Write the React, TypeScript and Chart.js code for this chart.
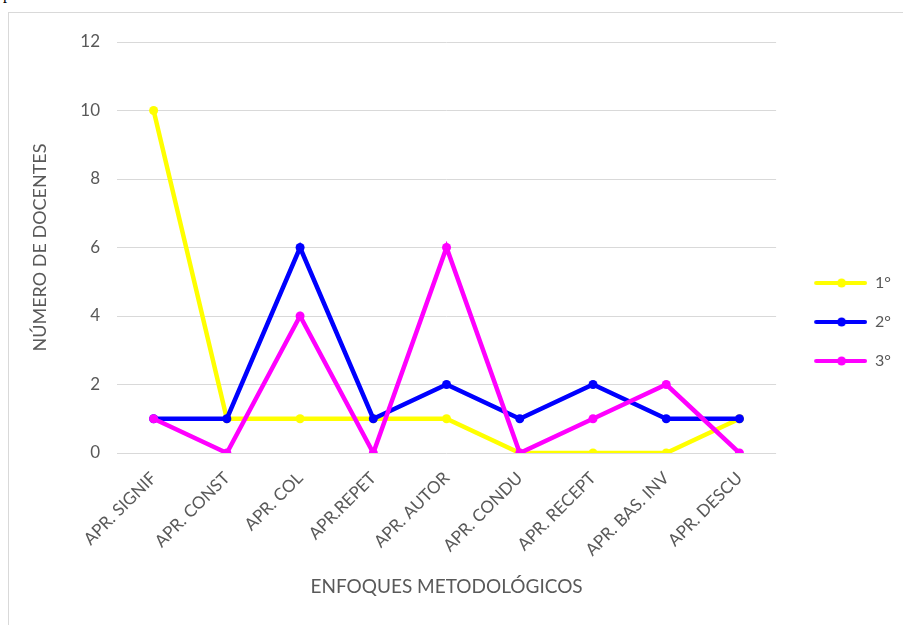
import React, { useEffect, useRef } from 'react';
import { Chart, registerables } from 'chart.js';

Chart.register(...registerables);

const categories = ['APR. SIGNIF', 'APR. CONST', 'APR. COL', 'APR.REPET', 'APR. AUTOR', 'APR. CONDU', 'APR. RECEPT', 'APR. BAS. INV', 'APR. DESCU'];
const seriesNames = ['1°', '2°', '3°'];
const serie1 = [10, 1, 1, 1, 1, 0, 0, 0, 1];
const serie2 = [1, 1, 6, 1, 2, 1, 2, 1, 1];
const serie3 = [1, 0, 4, 0, 6, 0, 1, 2, 0];
const seriesColors = ['#FFFF00', '#0000FF', '#FF00FF'];
const yTicks = [0, 2, 4, 6, 8, 10, 12];
const yTitle = 'NÚMERO DE DOCENTES';
const xTitle = 'ENFOQUES METODOLÓGICOS';

const FONT = 'Lato';
const TEXT = '#595959';

function makeIcon(color: string): HTMLCanvasElement {
  const c = document.createElement('canvas');
  c.width = 68;
  c.height = 12;
  const ctx = c.getContext('2d')!;
  ctx.strokeStyle = color;
  ctx.lineWidth = 4;
  ctx.lineCap = 'round';
  ctx.beginPath();
  ctx.moveTo(17, 6);
  ctx.lineTo(66, 6);
  ctx.stroke();
  ctx.fillStyle = color;
  ctx.beginPath();
  ctx.arc(42.5, 6, 4.5, 0, Math.PI * 2);
  ctx.fill();
  return c;
}

export default function App() {
  const ref = useRef<HTMLCanvasElement>(null);

  useEffect(() => {
    if (!ref.current) return;
    const icons = seriesColors.map(makeIcon);
    const allSeries = [serie1, serie2, serie3];
    const chart = new Chart(ref.current, {
      type: 'line',
      data: {
        labels: categories,
        datasets: allSeries.map((d, i) => ({
          label: seriesNames[i],
          data: d,
          borderColor: seriesColors[i],
          backgroundColor: seriesColors[i],
          pointBackgroundColor: seriesColors[i],
          pointBorderColor: seriesColors[i],
          borderWidth: 4.5,
          pointRadius: 4.5,
          pointBorderWidth: 0,
          pointHoverRadius: 4.5,
          tension: 0,
          fill: false,
          order: 3 - i,
        })),
      },
      options: {
        animation: false,
        responsive: true,
        maintainAspectRatio: false,
        layout: { padding: { top: 29, bottom: 23, left: 0, right: 2 } },
        plugins: {
          tooltip: { enabled: false },
          legend: {
            position: 'right',
            labels: {
              usePointStyle: true,
              pointStyleWidth: 68,
              padding: 23,
              color: TEXT,
              font: { family: FONT, size: 16 },
              generateLabels: (ch: any) => {
                const items = (Chart.defaults.plugins.legend.labels as any).generateLabels(ch);
                items.forEach((it: any) => { it.pointStyle = icons[it.datasetIndex]; });
                return items;
              },
              sort: (a: any, b: any) => a.datasetIndex - b.datasetIndex,
            },
          },
        },
        scales: {
          x: {
            offset: true,
            grid: { display: false, drawTicks: false },
            border: { display: false },
            ticks: {
              autoSkip: false,
              minRotation: 45,
              maxRotation: 45,
              padding: 15,
              color: TEXT,
              font: { family: FONT, size: 17 },
            },
            title: {
              display: true,
              text: xTitle,
              color: TEXT,
              font: { family: FONT, size: 19 },
              padding: { top: 0, bottom: 4 },
            },
            afterFit: (s: any) => { s.height = 149; },
          },
          y: {
            min: 0,
            max: 12,
            grid: { color: '#d9d9d9', lineWidth: 1, drawTicks: false },
            border: { display: false },
            ticks: {
              padding: 17,
              color: TEXT,
              font: { family: FONT, size: 17 },
            },
            afterBuildTicks: (s: any) => { s.ticks = yTicks.map((v) => ({ value: v })); },
            title: {
              display: true,
              text: yTitle,
              color: TEXT,
              font: { family: FONT, size: 18 },
              padding: { top: 20, bottom: 0 },
            },
            afterFit: (s: any) => { s.width = 108; },
          },
        },
      },
    });
    return () => chart.destroy();
  }, []);

  return (
    <div style={{ position: 'fixed', left: 0, top: 0, width: 903, height: 625, overflow: 'hidden', background: '#fff' }}>
      <span style={{ position: 'absolute', left: 3, top: -14, fontFamily: '"Liberation Serif", serif', fontSize: 16, lineHeight: '16px' }}>p</span>
      <div style={{ position: 'absolute', left: 8, top: 12, width: 1000, height: 700, border: '1px solid #d9d9d9', boxSizing: 'border-box' }}>
        <div style={{ position: 'absolute', left: 0, top: 0, width: 894, height: 612 }}>
          <canvas ref={ref} />
        </div>
      </div>
    </div>
  );
}
